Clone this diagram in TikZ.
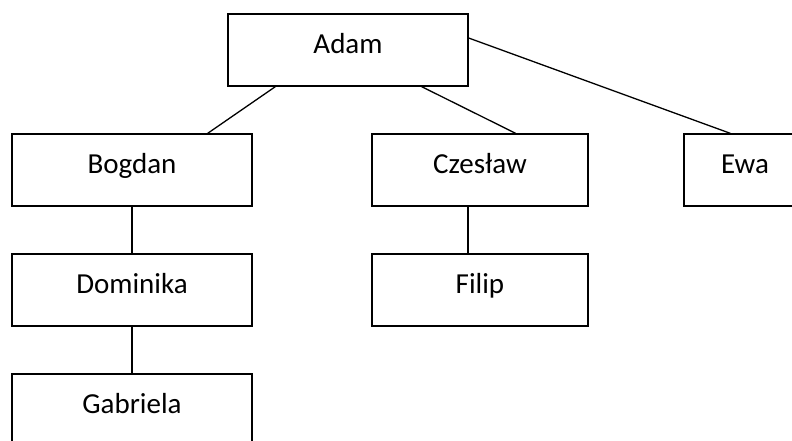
\documentclass[tikz,border=0pt]{standalone}
\usepackage{fontspec}
\setmainfont{Carlito}
\usetikzlibrary{positioning}
\begin{document}
\begin{tikzpicture}[x=1pt,y=-1pt,
  person/.style={draw=black,line width=1.3pt,rectangle,minimum height=72pt,inner sep=0pt,
    font=\fontsize{29}{32}\selectfont,text height=18.7pt,text depth=12pt},
  link/.style={draw=black,line width=1.3pt}]
\clip (0,0) rectangle (792,441);
\fill[white] (0,0) rectangle (792,441);
\node[person,minimum width=240pt] (adam) at (348,50) {Adam};
\node[person,minimum width=240pt] (bogdan) at (132,170) {Bogdan};
\node[person,minimum width=216pt] (czeslaw) at (480,170) {Czesław};
\node[person,minimum width=122pt] (ewa) at (745,170) {Ewa};
\node[person,minimum width=240pt] (dominika) at (132,290) {Dominika};
\node[person,minimum width=216pt] (filip) at (480,290) {Filip};
\node[person,minimum width=240pt] (gabriela) at (132,410) {Gabriela};
\draw[link] ([xshift=48pt]adam.south west) -- ([xshift=-45pt]bogdan.north east);
\draw[link] ([xshift=-47pt]adam.south east) -- ([xshift=-73pt]czeslaw.north east);
\draw[link] ([yshift=12pt]adam.east) -- ([xshift=47pt]ewa.north west);
\draw[link] (bogdan.south) -- (dominika.north);
\draw[link] ([xshift=-12pt]czeslaw.south) -- ([xshift=-12pt]filip.north);
\draw[link] (dominika.south) -- (gabriela.north);
\end{tikzpicture}
\end{document}
